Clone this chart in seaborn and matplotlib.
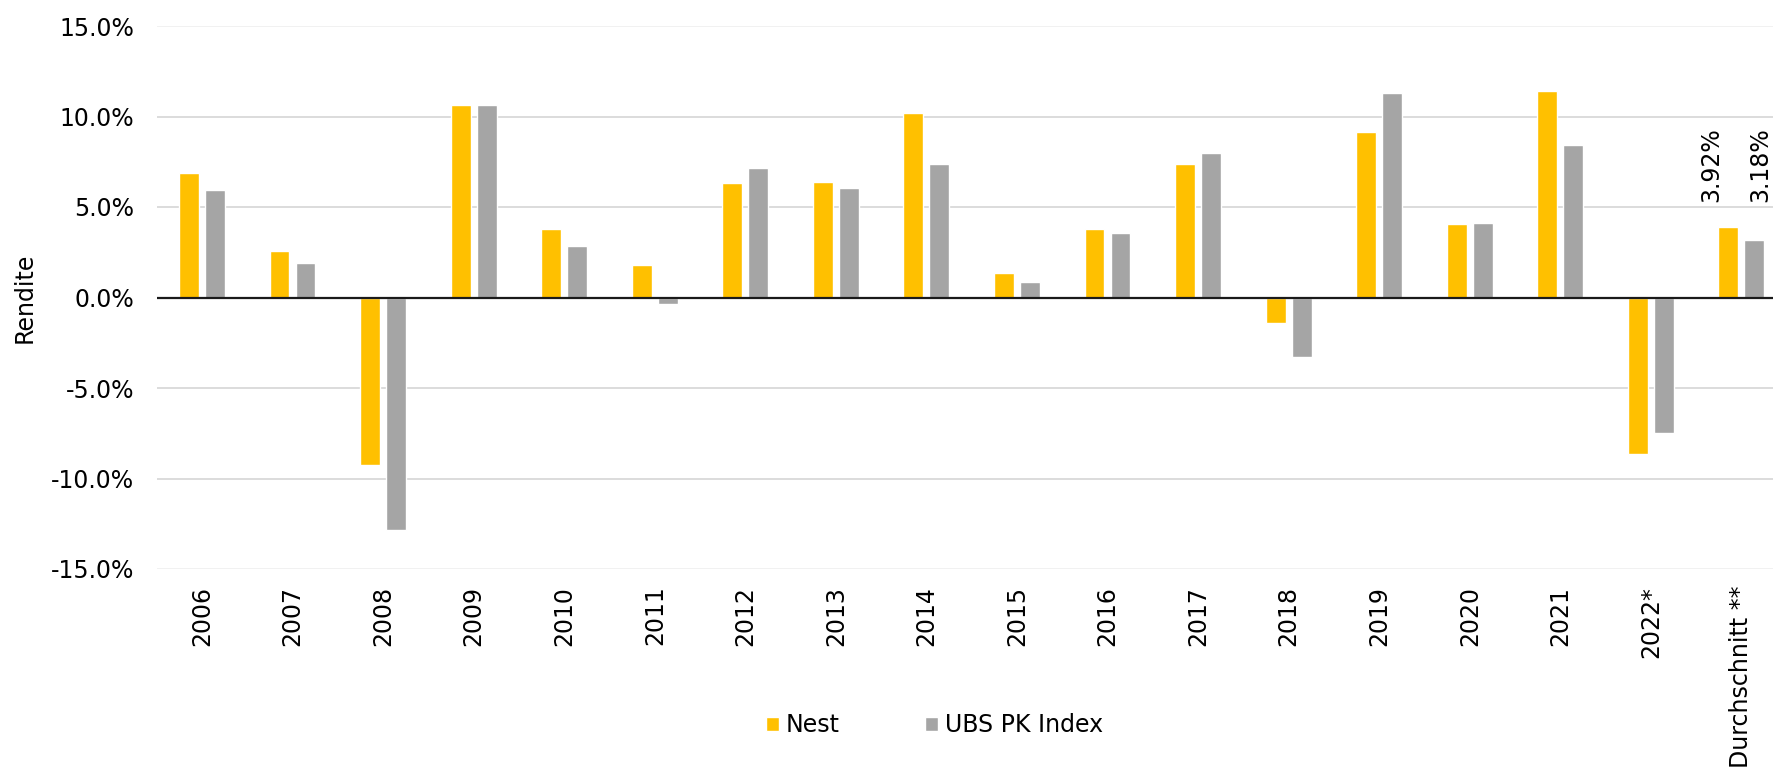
import pandas as pd
import numpy as np
import matplotlib
matplotlib.use('Agg')
import matplotlib.pyplot as plt
import seaborn as sns
from matplotlib.ticker import FuncFormatter

# Data (returns in %)
jahre = ['2006', '2007', '2008', '2009', '2010', '2011', '2012', '2013', '2014',
         '2015', '2016', '2017', '2018', '2019', '2020', '2021', '2022*', 'Durchschnitt **']
nest = [6.88, 2.57, -9.23, 10.61, 3.79, 1.78, 6.30, 6.39, 10.18,
        1.38, 3.79, 7.40, -1.40, 9.12, 4.05, 11.40, -8.64, 3.92]
ubs = [5.93, 1.90, -12.87, 10.61, 2.83, -0.35, 7.16, 6.04, 7.36,
       0.85, 3.54, 7.96, -3.31, 11.29, 4.09, 8.40, -7.50, 3.18]
serien = ['Nest', 'UBS PK Index']
farben = ['#FFC000', '#A5A5A5']

df = pd.DataFrame({
    'Jahr': jahre * 2,
    'Rendite': nest + ubs,
    'Serie': [serien[0]] * len(jahre) + [serien[1]] * len(jahre),
})

sns.set_theme(style='white')
plt.rcParams['font.family'] = ['DejaVu Sans']
plt.rcParams['text.color'] = 'black'
FS = 17

fig = plt.figure(figsize=(17.74, 7.72), dpi=100)
ax = fig.add_axes([156.7 / 1774, 1 - 569 / 772, 1630 / 1774, 543 / 772])

sns.barplot(data=df, x='Jahr', y='Rendite', hue='Serie', palette=farben,
            width=0.574, gap=0.234, ax=ax, legend=True, saturation=1,
            err_kws={'linewidth': 0})

ax.set_ylim(-15, 15)
ax.set_yticks([-15, -10, -5, 0, 5, 10, 15])
ax.yaxis.set_major_formatter(FuncFormatter(lambda v, p: f'{v:.1f}%'))
ax.set_xlim(-0.5, len(jahre) - 0.5)

# gridlines
for t in ax.get_yticks():
    if t == 0:
        continue
    c = '#f0f0f0' if abs(t) == 15 else '#d9d9d9'
    ax.axhline(t, color=c, lw=1.3, zorder=0)
ax.axhline(0, color='#1a1a1a', lw=1.6, zorder=3)

for s in ax.spines.values():
    s.set_visible(False)
ax.tick_params(axis='both', length=0, labelsize=FS, colors='black')
ax.tick_params(axis='y', pad=16)
ax.tick_params(axis='x', pad=12)
for lbl in ax.get_xticklabels():
    lbl.set_rotation(90)
ax.set_xlabel('')
ax.set_ylabel('')
fig.text(25 / 1774, 1 - 297.5 / 772, 'Rendite', rotation=90, ha='center', va='center',
         fontsize=FS, color='black')

# data labels on the average bars
i = len(jahre) - 1
for val, xc, dx in [(nest[i], i - 0.1435, -17), (ubs[i], i + 0.1435, 6)]:
    ax.annotate(f'{val:.2f}%', xy=(xc, 5.27), xytext=(dx * 0.72, 0),
                textcoords='offset points', rotation=90, ha='center', va='bottom',
                fontsize=FS, color='black')

handles, labels = ax.get_legend_handles_labels()
leg = ax.legend(handles, labels, loc='center', bbox_to_anchor=(934.5 / 1774, 47 / 772),
                bbox_transform=fig.transFigure, ncol=2, frameon=False, fontsize=FS,
                handlelength=0.55, handleheight=0.55, handletextpad=0.3, columnspacing=3.6)
for t in leg.get_texts():
    t.set_color('black')

fig.savefig('out.png', dpi=100)
